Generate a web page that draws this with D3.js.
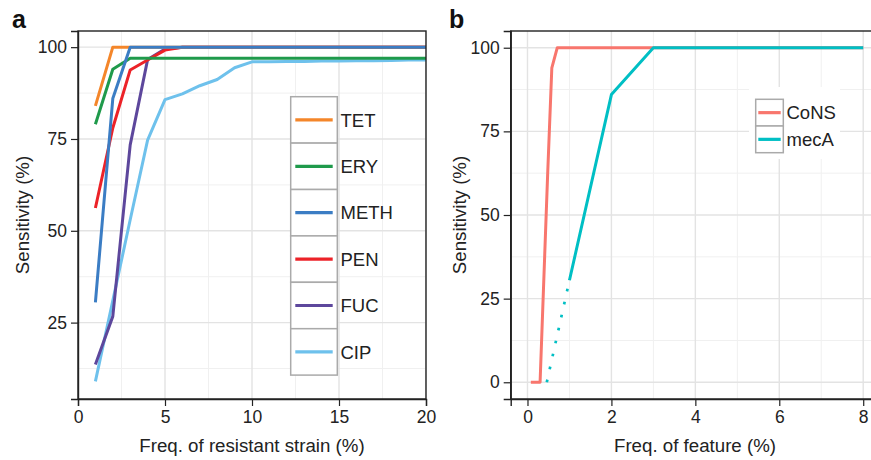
<!DOCTYPE html>
<html>
<head>
<meta charset="utf-8">
<script src="https://cdn.jsdelivr.net/npm/d3@7"></script>
<style>
  body { margin: 0; background: #fff; }
  svg text { font-family: "Liberation Sans", Arial, Helvetica, sans-serif; fill: #222; }
</style>
</head>
<body>
<script>
// panel a: sensitivity vs freq. of resistant strain
var freqA = [1,2,3,4,5,6,7,8,9,10,11,12,13,14,15,16,17,18,19,20];
var tetVals  = [84,100,100,100,100,100,100,100,100,100,100,100,100,100,100,100,100,100,100,100];
var eryVals  = [79,94,97,97,97,97,97,97,97,97,97,97,97,97,97,97,97,97,97,97];
var methVals = [30.5,86,100,100,100,100,100,100,100,100,100,100,100,100,100,100,100,100,100,100];
var penVals  = [56.2,78,93.8,96.5,99.2,100,100,100,100,100,100,100,100,100,100,100,100,100,100,100];
var fucVals  = [13.6,26.7,73.4,96.6,99.5,100,100,100,100,100,100,100,100,100,100,100,100,100,100,100];
var cipVals  = [9,31,53,74.7,85.7,87.3,89.5,91.2,94.4,96,96,96.1,96.1,96.2,96.2,96.3,96.3,96.4,96.5,96.5];
var namesA  = ["TET","ERY","METH","PEN","FUC","CIP"];
var colorsA = ["#f4862a","#1f9a4b","#3b7dc4","#ec2228","#5d479c","#6ec1ec"];

// panel b: sensitivity vs freq. of feature
var consX = [0.08,0.3,0.48,0.58,0.71,1,2,3,4,5,6,7,8];
var consY = [0,0,62,94,100,100,100,100,100,100,100,100,100];
var mecX  = [1,2,3,4,5,6,7,8];
var mecY  = [30.5,86,100,100,100,100,100,100];
var mecDotX = [0.46,1];
var mecDotY = [0,30.5];
var namesB  = ["CoNS","mecA"];
var colorsB = ["#f8766d","#00bfc4"];

var ticksA_x = [0,5,10,15,20];
var ticksA_y = [25,50,75,100];
var ticksB_x = [0,2,4,6,8];
var ticksB_y = [0,25,50,75,100];

var svg = d3.select("body").append("svg")
    .attr("width", 871)
    .attr("height", 460);

var zip = function(xs, ys){
    return xs.map(function(x, i){ return {x: x, y: ys[i]}; });
}

var drawPanel = function(opt)
{
    var xScale = d3.scaleLinear().domain(opt.xDomain).range([opt.left, opt.right]);
    var yScale = d3.scaleLinear().domain(opt.yDomain).range([opt.bottom, opt.top]);

    var clipId = "clip" + opt.label;
    svg.append("clipPath").attr("id", clipId)
        .append("rect")
        .attr("x", opt.left).attr("y", opt.top)
        .attr("width", opt.right - opt.left).attr("height", opt.bottom - opt.top);

    var g = svg.append("g");
    var plot = g.append("g").attr("clip-path", "url(#" + clipId + ")");

    // minor grid
    opt.minorX.forEach(function(v){
        plot.append("line").attr("x1", xScale(v)).attr("x2", xScale(v))
            .attr("y1", opt.top).attr("y2", opt.bottom)
            .attr("stroke", "#f0f0f0").attr("stroke-width", 1);
    });
    opt.minorY.forEach(function(v){
        plot.append("line").attr("y1", yScale(v)).attr("y2", yScale(v))
            .attr("x1", opt.left).attr("x2", opt.right)
            .attr("stroke", "#f0f0f0").attr("stroke-width", 1);
    });
    // major grid
    opt.ticksX.forEach(function(v){
        plot.append("line").attr("x1", xScale(v)).attr("x2", xScale(v))
            .attr("y1", opt.top).attr("y2", opt.bottom)
            .attr("stroke", "#e3e3e3").attr("stroke-width", 1.4);
    });
    opt.ticksY.forEach(function(v){
        plot.append("line").attr("y1", yScale(v)).attr("y2", yScale(v))
            .attr("x1", opt.left).attr("x2", opt.right)
            .attr("stroke", "#e3e3e3").attr("stroke-width", 1.4);
    });

    opt.draw(plot, xScale, yScale);

    // border
    g.append("rect")
        .attr("x", opt.left).attr("y", opt.top)
        .attr("width", opt.right - opt.left).attr("height", opt.bottom - opt.top)
        .attr("fill", "none").attr("stroke", "#222").attr("stroke-width", 1.4);

    var xAxis = d3.axisBottom(xScale).tickValues(opt.ticksX).tickSize(7).tickPadding(5);
    var yAxis = d3.axisLeft(yScale).tickValues(opt.ticksY).tickSize(7).tickPadding(4);

    var gx = g.append("g")
        .attr("transform", "translate(0," + opt.bottom + ")")
        .call(xAxis);
    var gy = g.append("g")
        .attr("transform", "translate(" + opt.left + ",0)")
        .call(yAxis);
    [gx, gy].forEach(function(a){
        a.select(".domain").attr("stroke", "#222").attr("stroke-width", 1.4);
        a.selectAll(".tick line").attr("stroke", "#222").attr("stroke-width", 1.2);
        a.selectAll(".tick text").attr("font-size", 17.5).style("fill", "#222")
            .attr("font-family", "Liberation Sans, Arial, sans-serif");
    });

    g.append("text")
        .attr("x", opt.titleX).attr("y", 452)
        .attr("text-anchor", "middle").attr("font-size", 18.7)
        .text(opt.xTitle);
    g.append("text")
        .attr("transform", "translate(" + opt.yTitleX + "," + ((opt.top + opt.bottom) / 2) + ") rotate(-90)")
        .attr("text-anchor", "middle").attr("font-size", 18.7)
        .text("Sensitivity (%)");
    g.append("text")
        .attr("x", opt.labelX).attr("y", 28)
        .attr("font-size", 25).attr("font-weight", "bold")
        .style("fill", "#111")
        .text(opt.label);
}

var line = function(xScale, yScale){
    return d3.line()
        .x(function(d){ return xScale(d.x); })
        .y(function(d){ return yScale(d.y); });
}

// ---- panel a
drawPanel({
    label: "a", labelX: 12,
    left: 78, right: 426, top: 31, bottom: 399,
    xDomain: [0, 20], yDomain: [4.2, 104.4],
    ticksX: ticksA_x, ticksY: ticksA_y,
    minorX: [2.5, 7.5, 12.5, 17.5], minorY: [12.5, 37.5, 62.5, 87.5],
    xTitle: "Freq. of resistant strain (%)", titleX: 252, yTitleX: 29,
    draw: function(plot, xScale, yScale){
        var series = [tetVals, eryVals, methVals, penVals, fucVals, cipVals];
        // drawing order so that overlaps look like the picture
        var order = [5, 4, 3, 1, 0, 2];
        order.forEach(function(i){
            plot.append("path")
                .datum(zip(freqA, series[i]))
                .attr("d", line(xScale, yScale))
                .attr("fill", "none")
                .attr("stroke", colorsA[i])
                .attr("stroke-width", 3)
                .attr("stroke-linejoin", "round");
        });
    }
});

// legend a
var legA = svg.append("g");
namesA.forEach(function(n, i){
    var y0 = 96.7 + i * 46.4;
    legA.append("rect")
        .attr("x", 290.7).attr("y", y0)
        .attr("width", 46.6).attr("height", 46.4)
        .attr("fill", "#fff").attr("stroke", "#aaa").attr("stroke-width", 1.5);
    legA.append("line")
        .attr("x1", 295.3).attr("x2", 332.7)
        .attr("y1", y0 + 23.2).attr("y2", y0 + 23.2)
        .attr("stroke", colorsA[i]).attr("stroke-width", 3.2);
    legA.append("text")
        .attr("x", 340.5).attr("y", y0 + 23.2)
        .attr("dy", "0.36em").attr("font-size", 18.5)
        .text(n);
});

// ---- panel b
drawPanel({
    label: "b", labelX: 449,
    left: 510.7, right: 880, top: 31, bottom: 399,
    xDomain: [-0.4, 8.4], yDomain: [-5, 105],
    ticksX: ticksB_x, ticksY: ticksB_y,
    minorX: [1, 3, 5, 7], minorY: [12.5, 37.5, 62.5, 87.5],
    xTitle: "Freq. of feature (%)", titleX: 695, yTitleX: 466,
    draw: function(plot, xScale, yScale){
        plot.append("path")
            .datum(zip(consX, consY))
            .attr("d", line(xScale, yScale))
            .attr("fill", "none").attr("stroke", colorsB[0])
            .attr("stroke-width", 3).attr("stroke-linejoin", "round");
        plot.append("path")
            .datum(zip(mecDotX, mecDotY))
            .attr("d", line(xScale, yScale))
            .attr("fill", "none").attr("stroke", colorsB[1])
            .attr("stroke-width", 2.7)
            .attr("stroke-dasharray", "2.7,10.6");
        plot.append("path")
            .datum(zip(mecX, mecY))
            .attr("d", line(xScale, yScale))
            .attr("fill", "none").attr("stroke", colorsB[1])
            .attr("stroke-width", 3).attr("stroke-linejoin", "round");
    }
});

// legend b
var legB = svg.append("g");
legB.append("rect")
    .attr("x", 749).attr("y", 87).attr("width", 91).attr("height", 72)
    .attr("fill", "#fff");
namesB.forEach(function(n, i){
    var y0 = 99.3 + i * 26.7;
    legB.append("rect")
        .attr("x", 755.7).attr("y", y0)
        .attr("width", 27.6).attr("height", 26.7)
        .attr("fill", "#fff").attr("stroke", "#aaa").attr("stroke-width", 1.5);
    legB.append("line")
        .attr("x1", 758.3).attr("x2", 780.7)
        .attr("y1", y0 + 13.35).attr("y2", y0 + 13.35)
        .attr("stroke", colorsB[i]).attr("stroke-width", 3.2);
    legB.append("text")
        .attr("x", 786.5).attr("y", y0 + 13.35)
        .attr("dy", "0.36em").attr("font-size", 18.5)
        .text(n);
});
</script>
</body>
</html>
